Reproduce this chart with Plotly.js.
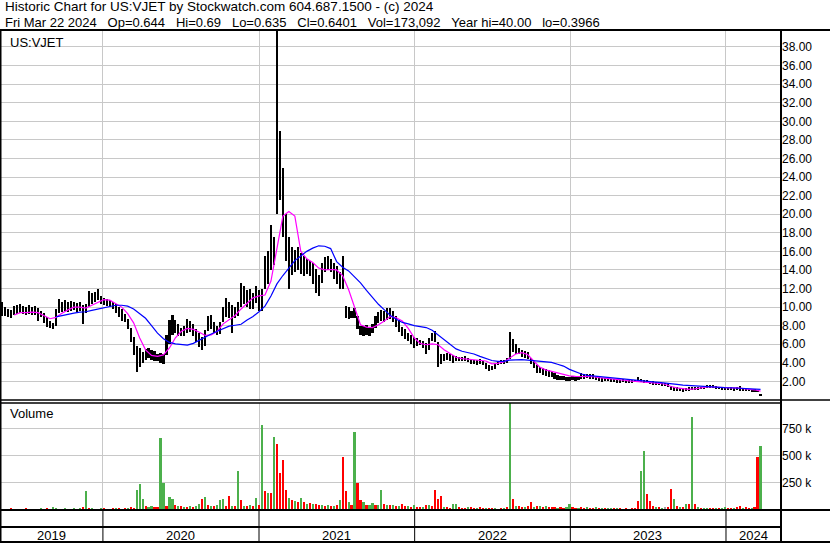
<!DOCTYPE html>
<html><head><meta charset="utf-8">
<script src="https://cdn.plot.ly/plotly-3.0.1.min.js"></script>
<style>html,body{margin:0;padding:0;background:#fff;overflow:hidden}#chart{width:830px;height:543px}</style>
</head><body><div id="chart"></div>
<script>
// Weekly sampled data, first week ending 2019-05-10, last 2024-03-22
const firstWeek = '2019-05-10';
const hi = [
10.5,10.0,9.8,9.7,10.1,10.2,10.3,10.1,10.0,10.2,
10.0,10.1,9.9,9.6,9.4,8.9,8.5,8.3,9.8,10.9,
10.6,10.8,10.5,10.7,10.6,10.4,10.5,10.2,10.3,11.7,
11.5,11.6,12.0,11.2,11.0,10.9,10.8,10.6,10.3,10.0,
9.8,9.3,8.7,7.8,6.8,5.8,5.6,5.2,5.5,5.6,
5.4,5.3,5.0,5.1,5.0,7.0,8.6,9.2,8.6,8.2,
7.8,8.0,8.7,8.5,8.2,7.6,7.2,6.8,7.5,9.0,
9.2,8.4,8.0,8.4,10.0,11.0,10.6,10.2,10.0,10.5,
12.6,12.3,11.8,12.0,11.5,12.3,11.8,12.0,15.5,16.0,
18.8,17.5,40.0,29.0,25.0,20.0,17.6,16.5,16.2,16.5,
15.8,15.5,15.2,15.0,14.8,14.1,13.5,14.8,15.4,15.5,
15.2,14.8,14.4,13.8,15.5,10.1,10.0,9.6,9.9,9.0,
8.0,8.0,8.1,7.8,8.2,9.0,9.5,9.7,9.6,9.9,
9.9,9.6,9.0,8.6,7.9,7.6,7.2,7.0,6.8,6.7,
6.5,6.4,6.1,6.7,7.2,7.4,6.2,5.0,5.0,5.05,
4.9,4.8,4.7,4.6,4.6,4.7,4.5,4.4,4.35,4.3,
4.4,4.2,4.0,3.8,3.7,4.0,4.2,4.3,4.35,4.5,
7.3,6.6,6.0,5.6,5.4,5.3,5.2,4.5,4.2,3.8,
3.6,3.4,3.3,3.2,3.0,2.9,2.7,2.6,2.55,2.5,
2.5,2.6,2.5,2.55,2.9,2.8,2.85,2.8,2.85,2.5,
2.45,2.4,2.35,2.4,2.3,2.25,2.2,2.2,2.25,2.2,
2.1,2.15,2.2,2.45,2.25,2.2,2.1,2.0,2.0,1.95,
1.9,1.85,1.8,1.7,1.5,1.4,1.35,1.3,1.25,1.3,
1.35,1.4,1.35,1.4,1.45,1.55,1.6,1.65,1.6,1.5,
1.45,1.4,1.35,1.3,1.35,1.3,1.35,1.55,1.3,1.25,
1.2,1.2,1.15,1.1,0.69];
const lo = [
9.0,9.0,8.9,8.8,9.2,9.3,9.4,9.3,9.2,9.3,
9.1,9.2,8.5,8.9,8.3,7.9,7.7,7.6,8.0,9.4,
9.5,9.6,9.5,9.6,9.7,9.5,9.6,8.2,9.4,10.0,
10.3,10.6,10.8,10.3,10.2,10.1,10.0,9.8,9.4,8.9,
8.5,8.4,7.6,6.2,4.8,3.0,3.6,4.0,4.3,4.5,
4.3,4.2,4.2,4.0,3.9,4.8,6.0,7.0,7.2,6.9,
6.9,6.9,7.2,7.3,6.9,6.2,5.7,5.4,5.8,7.4,
7.6,7.2,7.0,7.1,8.4,8.9,8.8,7.2,8.8,9.0,
10.0,10.3,10.0,9.8,9.8,10.4,9.6,9.6,12.0,12.5,
14.0,14.5,20.0,21.5,17.5,15.0,11.9,13.5,13.8,14.0,
13.6,13.4,13.6,13.4,12.5,11.5,11.2,12.6,13.8,14.0,
13.8,13.0,12.5,11.9,12.0,8.8,8.7,8.8,8.8,7.6,
7.0,6.9,7.0,6.9,7.2,7.8,8.3,8.5,8.4,8.6,
8.7,8.4,7.9,7.3,6.9,6.6,6.3,6.0,5.6,5.8,
5.9,5.6,4.9,5.4,6.3,6.2,3.6,3.9,4.2,4.3,
4.2,4.0,4.2,4.15,4.2,4.2,4.1,3.9,3.9,3.8,
3.9,3.8,3.3,3.1,3.2,3.3,3.8,3.9,3.9,4.0,
4.4,5.2,5.0,4.9,4.6,4.5,4.4,3.9,3.4,2.9,
2.9,2.7,2.6,2.5,2.5,2.3,2.2,2.2,2.1,2.0,
2.0,2.1,2.0,2.1,2.3,2.3,2.35,2.3,2.25,2.1,
2.0,1.95,2.0,2.0,1.95,1.9,1.85,1.85,1.9,1.8,
1.8,1.85,1.9,1.95,1.9,1.85,1.8,1.7,1.65,1.6,
1.6,1.55,1.5,1.4,1.1,1.0,1.0,0.95,0.9,0.95,
1.0,1.05,1.05,1.1,1.15,1.2,1.25,1.3,1.3,1.2,
1.15,1.1,1.1,1.05,1.05,1.0,1.05,1.0,1.0,0.95,
0.95,0.9,0.9,0.85,0.40];
// moving averages, sampled every 2 weeks
const maFastStart = '2019-06-07';
const maFast = [
9.15,9.4,9.4,9.45,9.4,9.1,8.75,8.9,9.35,9.7,
10.0,10.0,9.9,10.2,10.5,10.8,10.75,10.4,10.0,9.3,
8.3,6.7,5.4,4.8,4.7,4.85,5.6,6.7,7.4,7.7,
7.6,7.3,6.95,7.0,7.4,8.2,8.7,9.1,9.8,10.4,
11.0,11.2,11.3,12.8,16.5,19.8,20.3,19.8,16.0,15.2,
14.8,14.2,14.0,14.05,14.0,13.4,11.9,10.0,8.1,7.85,
7.8,8.1,8.5,9.0,8.85,8.5,7.7,6.7,6.1,5.95,
6.05,5.95,5.4,5.0,4.6,4.45,4.4,4.35,4.3,4.2,
3.9,3.95,4.1,4.55,4.95,5.1,4.9,4.2,3.55,3.25,
3.1,2.9,2.75,2.6,2.55,2.55,2.55,2.5,2.4,2.35,
2.25,2.2,2.15,2.05,2.0,2.0,1.95,1.9,1.8,1.7,
1.45,1.3,1.2,1.15,1.2,1.3,1.4,1.4,1.35,1.3,
1.3,1.3,1.25,1.15,1.1,0.95];
const maSlowStart = '2019-09-13';
const maSlow = [
8.95,9.1,9.25,9.35,9.45,9.5,9.65,9.8,9.95,10.1,
10.2,10.2,10.1,9.8,9.3,8.8,8.0,7.2,6.6,6.2,
6.05,6.0,5.9,6.1,6.45,6.8,7.1,7.4,7.7,7.95,
8.05,8.15,8.6,9.0,9.5,10.1,11.2,12.5,13.4,14.2,
15.0,15.5,16.0,16.35,16.6,16.55,16.3,14.9,14.3,13.9,
13.3,12.6,11.8,11.0,10.3,9.7,9.1,8.7,8.35,8.2,
8.0,7.9,7.8,7.5,7.0,6.4,5.9,5.5,5.25,5.1,
4.95,4.7,4.45,4.25,4.15,4.15,4.3,4.35,4.35,4.3,
4.25,4.15,4.1,4.05,3.85,3.65,3.3,3.05,2.8,2.65,
2.58,2.5,2.45,2.38,2.3,2.25,2.2,2.12,2.05,2.0,
1.95,1.9,1.85,1.75,1.68,1.6,1.55,1.5,1.45,1.42,
1.38,1.35,1.33,1.32,1.3,1.28,1.25,1.2,1.15];
// volume in thousands
const volK = [
12,8,10,15,10,8,12,10,15,10,
12,10,8,15,10,20,12,25,18,12,
10,15,10,12,20,10,15,25,176,15,
20,12,10,18,15,10,12,20,15,18,
10,20,15,25,20,185,244,100,40,30,
40,25,30,670,253,40,118,105,50,40,
35,30,30,35,30,40,60,100,118,45,
40,35,50,92,98,40,125,40,35,360,
92,40,35,45,40,108,50,785,172,155,
160,680,614,340,463,182,108,90,80,75,
108,70,60,65,55,60,50,45,40,45,
40,40,45,92,495,172,76,50,724,247,
92,76,50,45,66,50,45,182,55,50,
45,50,40,35,60,40,35,30,50,30,
25,30,45,45,35,182,105,134,30,25,
20,60,60,25,20,20,25,25,20,20,
25,20,15,20,15,20,12,20,20,30,
989,98,40,35,30,30,40,70,30,35,
40,30,40,30,25,27,20,25,20,25,
60,25,20,20,25,20,25,20,15,27,
20,15,20,15,15,20,15,15,12,15,
12,20,15,79,360,543,147,85,34,25,
25,20,27,30,195,98,40,25,30,60,
60,860,60,25,20,20,20,15,20,15,
15,20,27,15,20,15,25,40,20,25,
20,20,27,495,592];
// u = up, d = down, n = unchanged
const volDir = (
'dudduddudd'+'uddudduuud'+'duudududud'+'uddududdud'+'ddudduuudu'+
'udduuduudu'+'dududuudud'+'uduuuddudu'+'dududududu'+'duddddudud'+
'udududdudu'+'dududdudud'+'duduuduudu'+'dududdudud'+'dududdddud'+
'duuddduddu'+'dduddundud'+'ududduddud'+'ududdduddu'+'uddudduddu'+
'duduududud'+'dddduudddu'+'dunddududu'+'dududuuddu'+'duudduddud'+
'duddu').split('');
const yearStarts = ['2020-01-01','2021-01-01','2022-01-01','2023-01-01','2024-01-01'];
const yearLabels = ['2019','2020','2021','2022','2023','2024'];
const yearLabelPos = ['2019-09-03','2020-07-02','2021-07-02','2022-07-02','2023-07-02','2024-03-05'];
const priceTicks = [2,4,6,8,10,12,14,16,18,20,22,24,26,28,30,32,34,36,38];
const volTicks = [250,500,750];
const volTickText = ['250 k','500 k','750 k'];
const headerLine1 = 'Historic Chart for US:VJET by Stockwatch.com 604.687.1500 - (c) 2024';
const headerLine2 = 'Fri Mar 22 2024   Op=0.644   Hi=0.69   Lo=0.635   Cl=0.6401   Vol=173,092   Year hi=40.00   lo=0.3966';

const DAY = 86400000;
function dates(start, n, stepDays){
  const t0 = Date.parse(start+'T00:00:00Z');
  const out = [];
  for(let i=0;i<n;i++) out.push(new Date(t0 + i*stepDays*DAY).toISOString().slice(0,10));
  return out;
}
const wk = dates(firstWeek, hi.length, 7);
const dirColor = {u:'#4cb04c', d:'#ff0000', n:'#a0a0a0'};

// pixel helpers for layout (plot area x 1..781, y 31..510)
const W=830,H=543, L=1, R=49, T=31, B=33;
const pw = W-L-R, ph = H-T-B;
const px = x => (x-L)/pw;
const py = y => (H-B-y)/ph;

const grid = '#c8c8c8';
const font = 'Liberation Sans, Arial, sans-serif';

const traces = [
  {type:'bar', x:wk, base:lo, y:hi.map((h,i)=>h-lo[i]), width:5*DAY,
   marker:{color:'#000', line:{width:0}}, xaxis:'x', yaxis:'y', hoverinfo:'skip'},
  {type:'scatter', mode:'lines', x:dates(maFastStart, maFast.length, 14), y:maFast,
   line:{color:'#ff00ff', width:1.2}, xaxis:'x', yaxis:'y'},
  {type:'scatter', mode:'lines', x:dates(maSlowStart, maSlow.length, 14), y:maSlow,
   line:{color:'#0000ff', width:1.2}, xaxis:'x', yaxis:'y'},
  {type:'bar', x:wk, y:volK, width:5*DAY,
   marker:{color:volDir.map(d=>dirColor[d]), line:{width:0}}, xaxis:'x2', yaxis:'y2'}
];

const nbsp = s => s.replace(/ /g,'\u00a0');
const ann = [
  {text:headerLine1, xref:'paper', yref:'paper', x:px(3), y:py(7), xanchor:'left', yanchor:'middle', showarrow:false, font:{family:font,size:13.5,color:'#000'}},
  {text:nbsp(headerLine2), xref:'paper', yref:'paper', x:px(3), y:py(22.5), xanchor:'left', yanchor:'middle', showarrow:false, font:{family:font,size:13,color:'#000'}},
  {text:'US:VJET', xref:'paper', yref:'paper', x:px(8), y:py(42), xanchor:'left', yanchor:'middle', showarrow:false, font:{family:font,size:13,color:'#000'}},
  {text:'Volume', xref:'paper', yref:'paper', x:px(8), y:py(413), xanchor:'left', yanchor:'middle', showarrow:false, font:{family:font,size:13,color:'#000'}}
];
yearLabels.forEach((t,i)=>ann.push({text:t, xref:'x2', yref:'paper', x:yearLabelPos[i], y:py(535), xanchor:'center', yanchor:'middle', showarrow:false, font:{family:font,size:13,color:'#000'}}));

const blk = {color:'#000', width:2};
const shapes = [
  {type:'line', xref:'paper', yref:'paper', x0:px(0), x1:px(830), y0:py(30), y1:py(30), line:blk},
  {type:'line', xref:'paper', yref:'paper', x0:px(0.5), x1:px(0.5), y0:py(30), y1:py(543), line:blk},
  {type:'line', xref:'paper', yref:'paper', x0:px(781), x1:px(781), y0:py(30), y1:py(543), line:blk},
  {type:'line', xref:'paper', yref:'paper', x0:px(0), x1:px(830), y0:py(400), y1:py(400), line:{color:'#000',width:1.5}},
  {type:'line', xref:'paper', yref:'paper', x0:px(0), x1:px(781), y0:py(403), y1:py(403), line:{color:'#000',width:1.5}},
  {type:'line', xref:'paper', yref:'paper', x0:px(0), x1:px(830), y0:py(510), y1:py(510), line:blk},
  {type:'line', xref:'paper', yref:'paper', x0:px(0), x1:px(781), y0:py(527), y1:py(527), line:blk},
  {type:'line', xref:'paper', yref:'paper', x0:px(0), x1:px(830), y0:py(542), y1:py(542), line:blk}
];
yearStarts.forEach(d=>shapes.push({type:'line', xref:'x2', yref:'paper', x0:d, x1:d, y0:py(510), y1:py(542), line:{color:'#000',width:1}}));

const xr = ['2019-05-07','2024-05-09'];
const xax = {type:'date', range:xr, tickvals:yearStarts, showticklabels:false, ticks:'', showgrid:true, gridcolor:grid, gridwidth:1, zeroline:false, showline:false, fixedrange:true};
const layout = {
  width:W, height:H, margin:{l:L,r:R,t:T,b:B,pad:0},
  paper_bgcolor:'#fff', plot_bgcolor:'#fff', showlegend:false, bargap:0,
  font:{family:font, color:'#000', size:12},
  xaxis:Object.assign({anchor:'y'}, xax),
  xaxis2:Object.assign({anchor:'y2', matches:'x'}, xax),
  yaxis:{domain:[py(400),1], range:[0,39.72], side:'right', tickvals:priceTicks, tickformat:'.2f',
         showgrid:true, gridcolor:grid, zeroline:false, ticks:'', showline:false, tickfont:{size:12,color:'#000'}, fixedrange:true},
  yaxis2:{domain:[0,py(403)], range:[0,990], side:'right', tickvals:volTicks, ticktext:volTickText,
         showgrid:true, gridcolor:grid, zeroline:false, ticks:'', showline:false, tickfont:{size:12,color:'#000'}, fixedrange:true},
  annotations:ann, shapes:shapes
};
Plotly.newPlot('chart', traces, layout, {displayModeBar:false, staticPlot:true});
</script></body></html>
